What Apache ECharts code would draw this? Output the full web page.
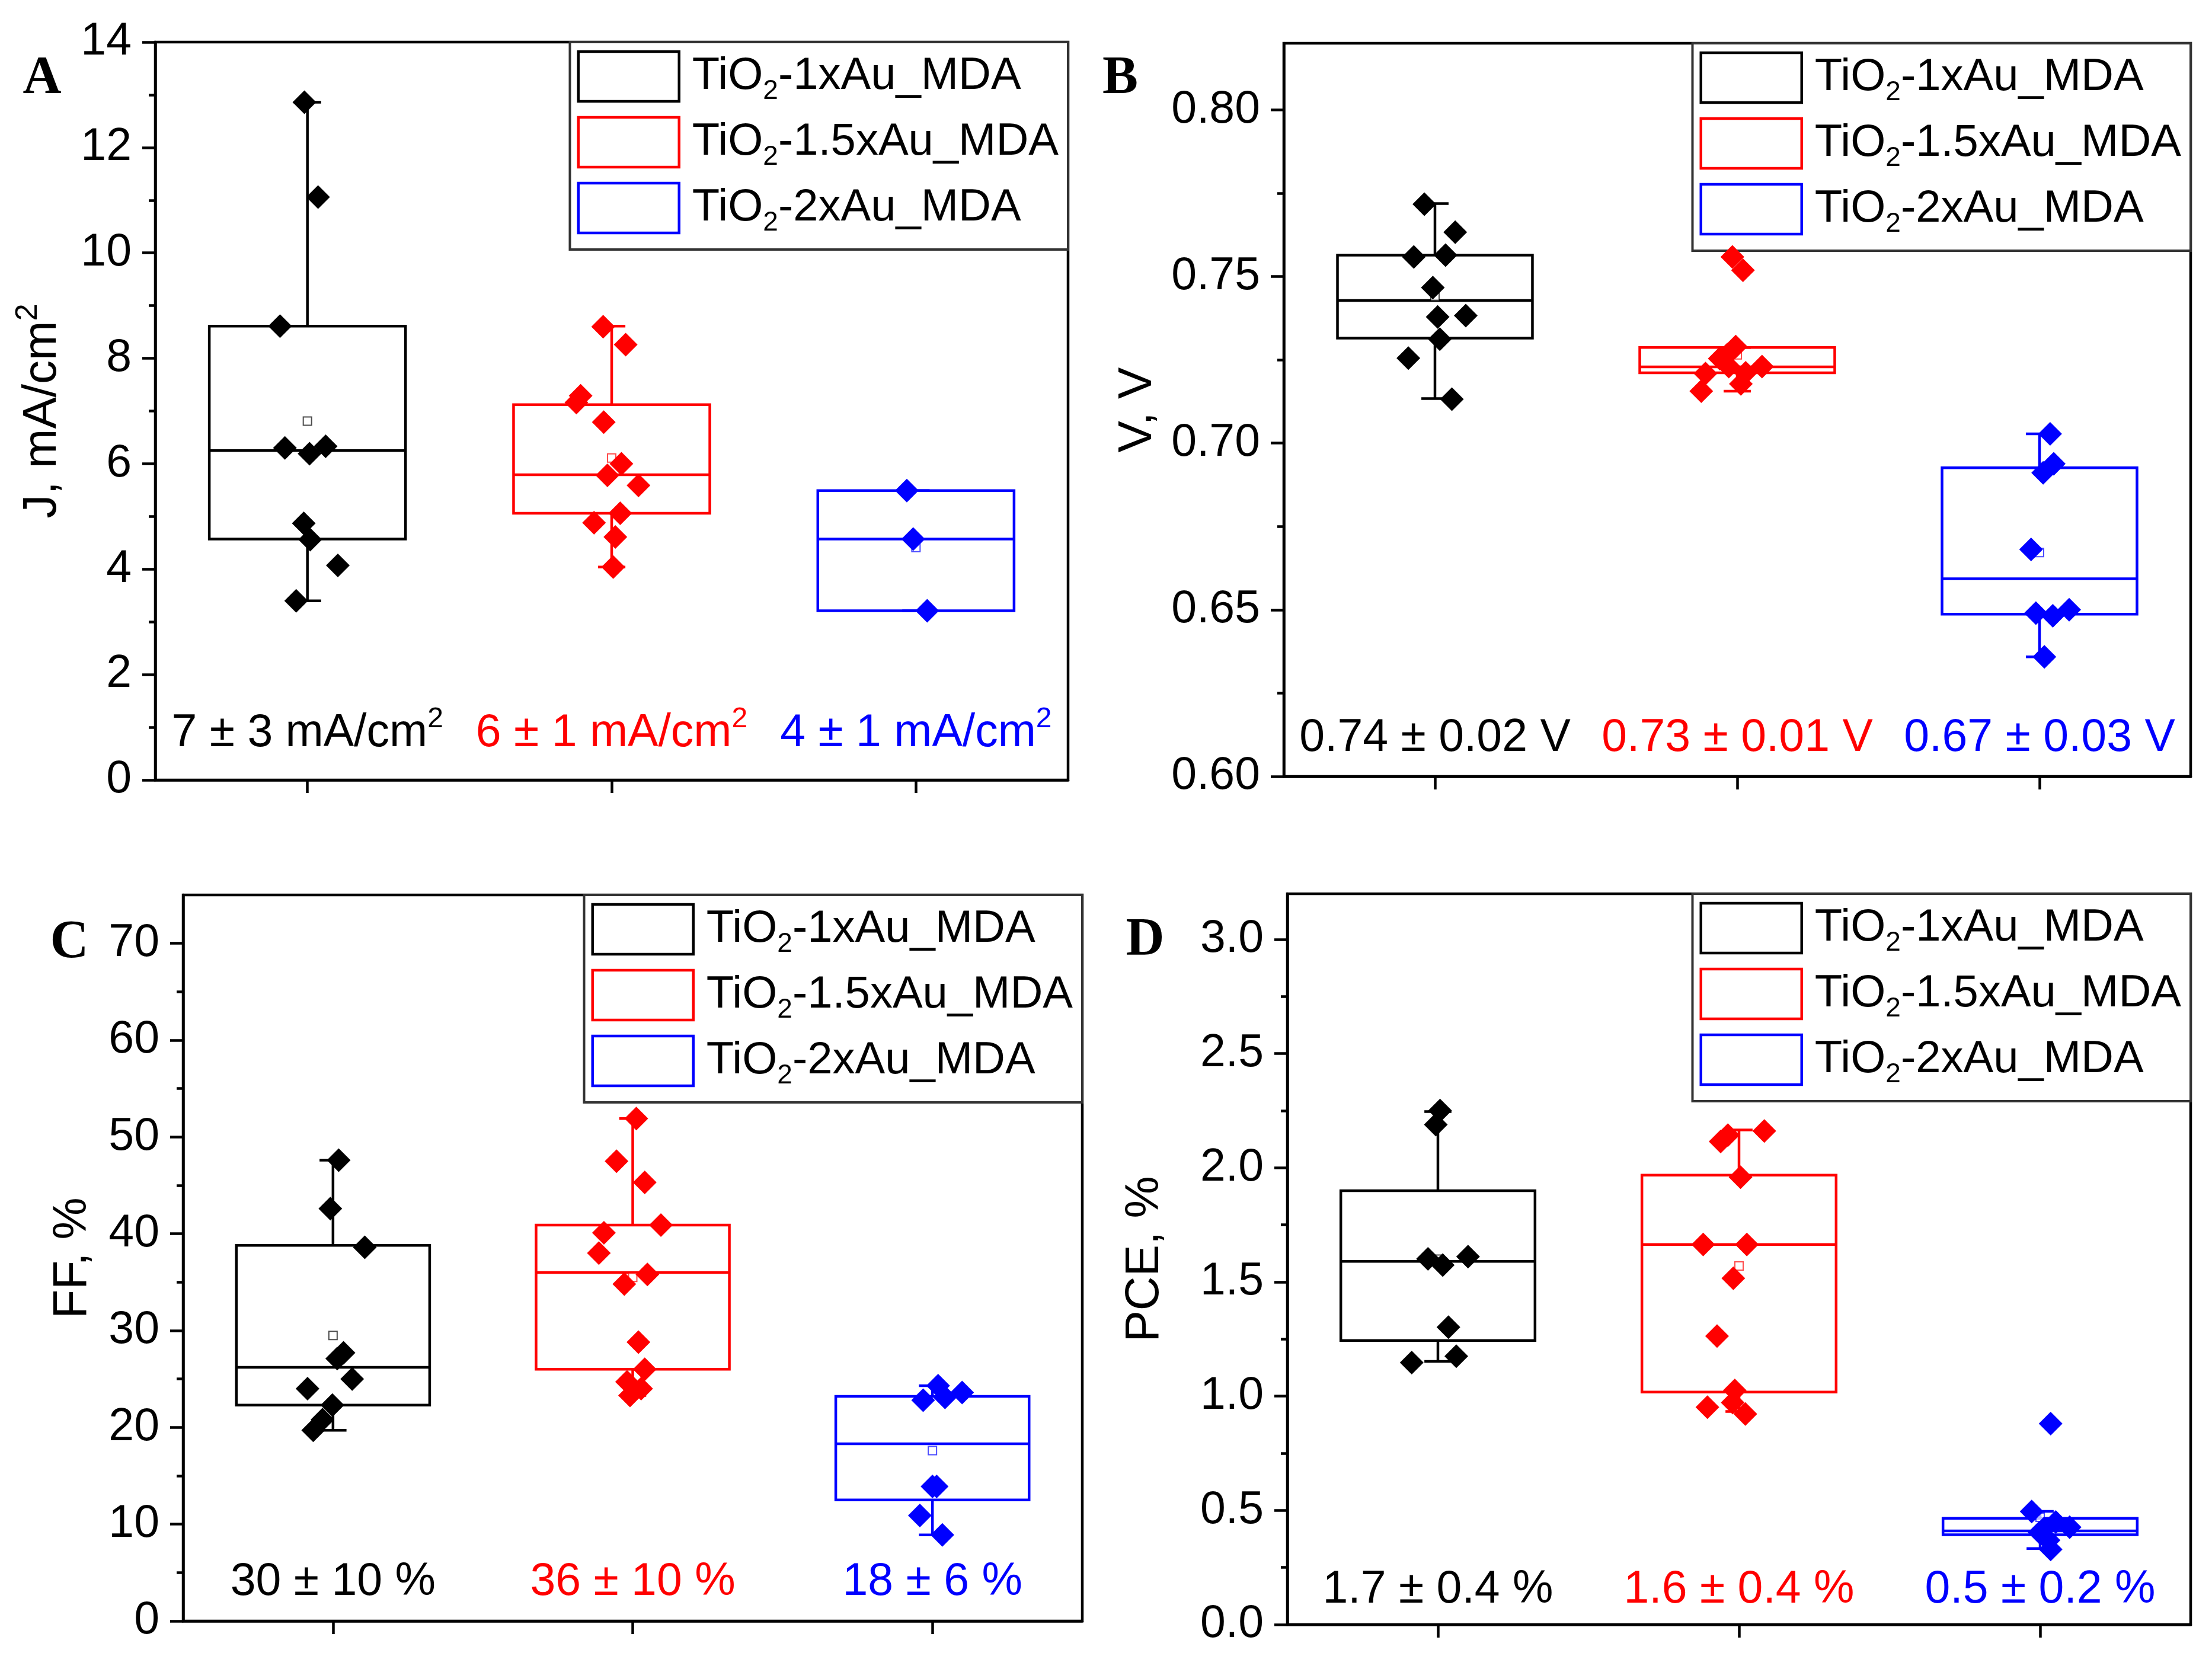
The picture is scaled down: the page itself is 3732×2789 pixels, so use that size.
<!DOCTYPE html>
<html>
<head>
<meta charset="utf-8">
<script src="https://cdn.jsdelivr.net/npm/echarts@6/dist/echarts.min.js"></script>
<style>
html, body { margin: 0; padding: 0; background: #fff; }
#chart { width: 3732px; height: 2789px; }
</style>
</head>
<body>
<div id="chart"></div>
<script>
var groupNames = ['TiO2-1xAu_MDA', 'TiO2-1.5xAu_MDA', 'TiO2-2xAu_MDA'];
var groupColors = ['#000000', '#ff0000', '#0000ff'];

// A : J, mA/cm2
var jBlack = [12.86, 11.06, 8.61, 6.30, 6.19, 6.33, 4.87, 4.56, 4.07, 3.40];
var jBlackJitter = [-0.01, 0.035, -0.09, -0.074, 0.007, 0.06, -0.012, 0.009, 0.1, -0.037];
var jRed = [8.60, 8.26, 7.29, 7.16, 6.79, 6.00, 5.78, 5.59, 5.06, 4.88, 4.61, 4.04];
var jRedJitter = [-0.028, 0.046, -0.102, -0.116, -0.026, 0.032, -0.014, 0.088, 0.028, -0.058, 0.012, 0.005];
var jBlue = [5.49, 4.57, 3.21];
var jBlueJitter = [-0.03, -0.009, 0.037];
// [min, Q1, median, Q3, max]
var jBoxes = [[3.40, 4.57, 6.25, 8.61, 12.86], [4.04, 5.06, 5.79, 7.12, 8.61], [3.21, 3.21, 4.57, 5.49, 5.49]];
var jMeans = [6.81, 6.11, 4.41];
var jTicks = [0, 2, 4, 6, 8, 10, 12, 14];
var jMinor = [1, 3, 5, 7, 9, 11, 13];
var jNotes = ['7 ± 3 mA/cm²', '6 ± 1 mA/cm²', '4 ± 1 mA/cm²'];

// B : V, V
var vBlack = [0.7717, 0.7633, 0.7559, 0.7564, 0.7467, 0.7379, 0.7383, 0.7312, 0.7255, 0.7132];
var vBlackJitter = [-0.035, 0.067, -0.07, 0.035, -0.007, 0.009, 0.102, 0.016, -0.088, 0.056];
var vRed = [0.7559, 0.7519, 0.7290, 0.7266, 0.7254, 0.7230, 0.7230, 0.7209, 0.7211, 0.7178, 0.7156];
var vRedJitter = [-0.016, 0.019, -0.005, -0.033, -0.058, -0.028, 0.082, -0.105, 0.028, 0.012, -0.119];
var vBlue = [0.7028, 0.6938, 0.6911, 0.6681, 0.6490, 0.6482, 0.6500, 0.6359];
var vBlueJitter = [0.035, 0.047, 0.012, -0.028, -0.012, 0.044, 0.098, 0.016];
var vBoxes = [[0.7134, 0.7315, 0.7428, 0.7564, 0.7719], [0.7156, 0.7211, 0.7229, 0.7287, 0.7287], [0.6359, 0.6487, 0.6593, 0.6926, 0.7028]];
var vMeans = [0.744, 0.7265, 0.6672];
var vTicks = [0.60, 0.65, 0.70, 0.75, 0.80];
var vMinor = [0.625, 0.675, 0.725, 0.775];
var vNotes = ['0.74 ± 0.02 V', '0.73 ± 0.01 V', '0.67 ± 0.03 V'];

// C : FF, %
var ffBlack = [47.6, 42.6, 38.6, 25.0, 27.7, 27.1, 24.0, 22.3, 20.8, 19.7];
var ffBlackJitter = [0.019, -0.009, 0.106, 0.064, 0.035, 0.014, -0.085, -0.002, -0.035, -0.066];
var ffRed = [51.9, 47.5, 45.3, 40.9, 40.1, 38.0, 35.8, 34.8, 28.8, 26.0, 24.7, 24.0, 23.3];
var ffRedJitter = [0.012, -0.054, 0.04, 0.094, -0.096, -0.113, 0.049, -0.028, 0.019, 0.04, -0.019, 0.028, -0.009];
var ffBlue = [24.3, 23.6, 23.1, 22.8, 13.9, 13.9, 10.9, 8.9];
var ffBlueJitter = [0.019, 0.099, 0.042, -0.031, 0, 0.014, -0.042, 0.033];
var ffBoxes = [[19.7, 22.3, 26.2, 38.8, 47.6], [23.3, 26.0, 36.0, 40.9, 51.9], [8.9, 12.5, 18.3, 23.2, 24.3]];
var ffMeans = [29.5, 35.5, 17.6];
var ffTicks = [0, 10, 20, 30, 40, 50, 60, 70];
var ffMinor = [5, 15, 25, 35, 45, 55, 65];
var ffNotes = ['30 ± 10 %', '36 ± 10 %', '18 ± 6 %'];

// D : PCE, %
var pceBlack = [2.251, 2.189, 1.601, 1.611, 1.574, 1.302, 1.175, 1.147];
var pceBlackJitter = [0.007, -0.007, -0.033, 0.1, 0.016, 0.035, 0.061, -0.087];
var pceRed = [2.115, 2.143, 2.161, 1.959, 1.664, 1.664, 1.516, 1.263, 1.025, 0.972, 0.952, 0.922];
var pceRedJitter = [-0.061, -0.037, 0.084, 0.005, -0.119, 0.026, -0.019, -0.073, -0.014, -0.021, -0.105, 0.021];
var pceBlue = [0.880, 0.495, 0.449, 0.426, 0.403, 0.369, 0.329, 0.419];
var pceBlueJitter = [0.035, -0.028, 0.052, 0.098, -0.002, 0.028, 0.035, 0.012];
var pceBoxes = [[1.152, 1.244, 1.59, 1.90, 2.246], [0.933, 1.018, 1.664, 1.968, 2.166], [0.333, 0.393, 0.41, 0.465, 0.496]];
var pceMeans = [1.60, 1.57, 0.47];
var pceTicks = [0.0, 0.5, 1.0, 1.5, 2.0, 2.5, 3.0];
var pceMinor = [0.25, 0.75, 1.25, 1.75, 2.25, 2.75];
var pceNotes = ['1.7 ± 0.4 %', '1.6 ± 0.4 %', '0.5 ± 0.2 %'];

var FONT = '"Liberation Sans", Arial, sans-serif';

// panel setup (layout lives here, values come from the arrays above)
var panels = [
	{ tag: 'A', title: 'J, mA/cm²', min: 0, max: 14, ticks: jTicks, minor: jMinor, dec: 0,
	  points: [jBlack, jRed, jBlue], jitter: [jBlackJitter, jRedJitter, jBlueJitter],
	  boxes: jBoxes, means: jMeans, notes: jNotes, noteY: 0.88,
	  grid: { left: 262, top: 71, width: 1540, height: 1245 }, nameGap: 140, tagPos: [71, 134] },
	{ tag: 'B', title: 'V, V', min: 0.6, max: 0.82, ticks: vTicks, minor: vMinor, dec: 2,
	  points: [vBlack, vRed, vBlue], jitter: [vBlackJitter, vRedJitter, vBlueJitter],
	  boxes: vBoxes, means: vMeans, notes: vNotes, noteY: 0.6115,
	  grid: { left: 2166, top: 73, width: 1530, height: 1237 }, nameGap: 196, tagPos: [1890, 134] },
	{ tag: 'C', title: 'FF, %', min: 0, max: 75, ticks: ffTicks, minor: ffMinor, dec: 0,
	  points: [ffBlack, ffRed, ffBlue], jitter: [ffBlackJitter, ffRedJitter, ffBlueJitter],
	  boxes: ffBoxes, means: ffMeans, notes: ffNotes, noteY: 4.0,
	  grid: { left: 309, top: 1510, width: 1517, height: 1225 }, nameGap: 136, tagPos: [117, 1592] },
	{ tag: 'D', title: 'PCE, %', min: 0, max: 3.2, ticks: pceTicks, minor: pceMinor, dec: 1,
	  points: [pceBlack, pceRed, pceBlue], jitter: [pceBlackJitter, pceRedJitter, pceBlueJitter],
	  boxes: pceBoxes, means: pceMeans, notes: pceNotes, noteY: 0.15,
	  grid: { left: 2172, top: 1508, width: 1524, height: 1233 }, nameGap: 190, tagPos: [1932, 1588] }
];

// box + whiskers drawn through the axes
function renderBox(params, api) {
	var x = api.value(0);
	var color = groupColors[x];
	var lo = api.coord([x, api.value(1)]);
	var q1 = api.coord([x, api.value(2)]);
	var md = api.coord([x, api.value(3)]);
	var q3 = api.coord([x, api.value(4)]);
	var hi = api.coord([x, api.value(5)]);
	var half = api.size([0.645, 0])[0] / 2;
	var cap = api.size([0.09, 0])[0] / 2;
	function st() { return { stroke: color, fill: 'none', lineWidth: 4.5 }; }
	function seg(x1, y1, x2, y2) {
		return { type: 'line', shape: { x1: x1, y1: y1, x2: x2, y2: y2 }, style: st() };
	}
	return {
		type: 'group',
		children: [
			{ type: 'rect', shape: { x: q3[0] - half, y: q3[1], width: 2 * half, height: q1[1] - q3[1] }, style: st() },
			seg(md[0] - half, md[1], md[0] + half, md[1]),
			seg(hi[0], hi[1], hi[0], q3[1]),
			seg(lo[0], q1[1], lo[0], lo[1]),
			seg(hi[0] - cap, hi[1], hi[0] + cap, hi[1]),
			seg(lo[0] - cap, lo[1], lo[0] + cap, lo[1])
		]
	};
}

var grids = [], xAxes = [], yAxes = [], series = [], legends = [], graphics = [];
var axisLineStyle = { color: '#000', width: 4.5 };

panels.forEach(function (p, i) {
	grids.push({
		left: p.grid.left, top: p.grid.top, width: p.grid.width, height: p.grid.height,
		show: true, borderColor: '#000', borderWidth: 4.5, backgroundColor: 'transparent'
	});
	xAxes.push({
		gridIndex: i, type: 'value', min: -0.5, max: 2.5,
		axisLine: { show: true, onZero: false, lineStyle: axisLineStyle },
		axisTick: { show: true, inside: false, length: 22, lineStyle: axisLineStyle, customValues: [0, 1, 2] },
		axisLabel: { show: false },
		splitLine: { show: false }
	});
	yAxes.push({
		gridIndex: i, type: 'value', position: 'left', min: p.min, max: p.max,
		axisLine: { show: true, onZero: false, lineStyle: axisLineStyle },
		axisTick: { show: true, length: 22, lineStyle: axisLineStyle, customValues: p.ticks },
		axisLabel: {
			customValues: p.ticks, fontSize: 77, fontFamily: FONT, color: '#000', margin: 40,
			formatter: (function (d) { return function (v) { return v.toFixed(d); }; })(p.dec)
		},
		splitLine: { show: false },
		name: p.title.replace('²', '{sup|2}'),
		nameLocation: 'middle',
		nameGap: p.nameGap,
		nameTextStyle: {
			fontSize: 80, fontFamily: FONT, color: '#000', lineHeight: 100,
			rich: { sup: { fontSize: 52, lineHeight: 52, verticalAlign: 'top', fontFamily: FONT, color: '#000' } }
		}
	});
	yAxes.push({
		gridIndex: i, type: 'value', position: 'left', min: p.min, max: p.max,
		axisLine: { show: false, onZero: false },
		axisTick: { show: true, length: 11, lineStyle: axisLineStyle, customValues: p.minor },
		axisLabel: { show: false },
		splitLine: { show: false }
	});

	var yIdx = i * 2;

	series.push({
		type: 'custom', xAxisIndex: i, yAxisIndex: yIdx, z: 2, silent: true,
		renderItem: renderBox,
		encode: { x: 0, y: [1, 2, 3, 4, 5] },
		data: p.boxes.map(function (b, g) { return [g].concat(b); })
	});

	series.push({
		type: 'scatter', xAxisIndex: i, yAxisIndex: yIdx, z: 3, silent: true,
		symbol: 'rect', symbolSize: 14,
		data: p.means.map(function (m, g) {
			return { value: [g, m], itemStyle: { color: '#fff', borderColor: groupColors[g], borderWidth: 2, opacity: 0.7 } };
		})
	});

	p.points.forEach(function (vals, g) {
		series.push({
			name: groupNames[g], type: 'scatter', xAxisIndex: i, yAxisIndex: yIdx, z: 4, silent: true,
			symbol: 'diamond', symbolSize: 40,
			itemStyle: { color: groupColors[g], opacity: 1 },
			data: vals.map(function (v, k) { return [g + p.jitter[g][k], v]; })
		});
	});

	series.push({
		type: 'scatter', xAxisIndex: i, yAxisIndex: yIdx, z: 5, silent: true,
		symbolSize: 1, itemStyle: { color: 'rgba(255,255,255,0)' },
		label: {
			show: true, position: 'inside', fontSize: 77, fontFamily: FONT, lineHeight: 96,
			textBorderWidth: 0, textBorderColor: 'transparent', opacity: 1,
			formatter: function (prm) { return p.notes[prm.dataIndex].replace('²', '{sup|2}'); },
			rich: { sup: { fontSize: 48, lineHeight: 48, verticalAlign: 'top', fontFamily: FONT, textBorderWidth: 0 } }
		},
		data: p.notes.map(function (n, g) {
			return { value: [g, p.noteY], label: { color: groupColors[g] } };
		})
	});

	legends.push({
		show: true, orient: 'vertical', selectedMode: false,
		right: 3732 - (p.grid.left + p.grid.width), top: p.grid.top,
		backgroundColor: '#fff', borderColor: '#333', borderWidth: 4,
		padding: [10, 16, 22, 12], itemGap: 15, itemWidth: 170, itemHeight: 84,
		textStyle: {
			fontSize: 76, fontFamily: FONT, color: '#000', lineHeight: 96, padding: [0, 0, 0, 17],
			rich: { sub: { fontSize: 46, lineHeight: 46, verticalAlign: 'bottom', fontFamily: FONT, color: '#000' } }
		},
		formatter: function (name) { return name.replace('TiO2', 'TiO{sub|2}'); },
		data: groupNames.map(function (n, g) {
			return { name: n, icon: 'rect', itemStyle: { color: '#fff', borderColor: groupColors[g], borderWidth: 4.5 } };
		})
	});

	graphics.push({
		type: 'text', x: p.tagPos[0], y: p.tagPos[1], z: 10,
		style: {
			text: p.tag, fontSize: 90, fontWeight: 'bold', fontFamily: '"Liberation Serif", "Times New Roman", serif',
			fill: '#000', align: 'center', verticalAlign: 'middle'
		}
	});
});

var chart = echarts.init(document.getElementById('chart'));
chart.setOption({
	animation: false,
	backgroundColor: '#fff',
	grid: grids,
	xAxis: xAxes,
	yAxis: yAxes,
	legend: legends,
	graphic: graphics,
	series: series
});
</script>
</body>
</html>
